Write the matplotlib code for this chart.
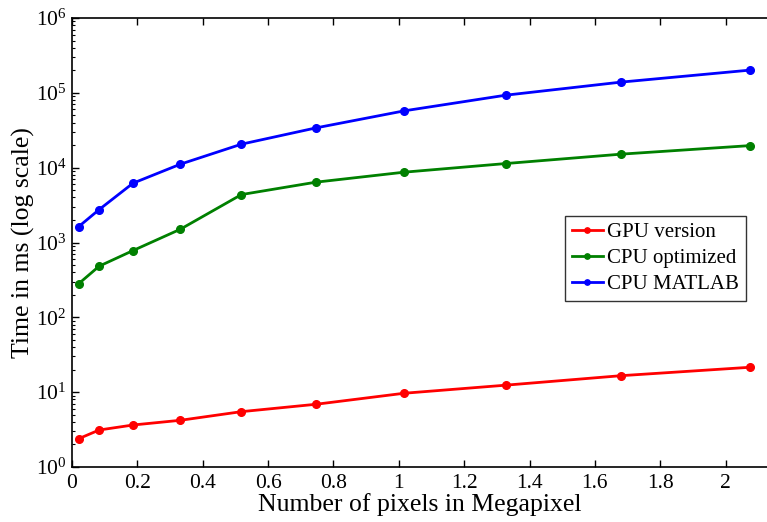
import matplotlib
matplotlib.use("Agg")
import matplotlib.pyplot as plt
from matplotlib.ticker import LogLocator, FixedLocator

megapixels = [0.0207, 0.0829, 0.1866, 0.3318, 0.5184, 0.7465, 1.0161, 1.3271, 1.6796, 2.0736]
gpu_version = [2.39, 3.12, 3.64, 4.21, 5.49, 6.89, 9.67, 12.4, 16.6, 21.5]
cpu_optimized = [282, 482, 780, 1506, 4370, 6400, 8700, 11350, 15150, 19700]
cpu_matlab = [1633, 2750, 6200, 11140, 20600, 34000, 57400, 93000, 139000, 201000]
series_labels = ["GPU version", "CPU optimized", "CPU MATLAB"]
x_ticks = [0, 0.2, 0.4, 0.6, 0.8, 1.0, 1.2, 1.4, 1.6, 1.8, 2.0]
x_tick_labels = ["0", "0.2", "0.4", "0.6", "0.8", "1", "1.2", "1.4", "1.6", "1.8", "2"]

plt.rcParams['font.family'] = ['Liberation Serif', 'DejaVu Serif']
plt.rcParams['mathtext.fontset'] = 'custom'
plt.rcParams['mathtext.rm'] = 'Liberation Serif'
plt.rcParams['mathtext.it'] = 'Liberation Serif:italic'

W, H = 767, 522
fig = plt.figure(figsize=(W / 100, H / 100), dpi=100)
ax = fig.add_axes([72 / W, 1 - 467 / H, (W - 72) / W, (467 - 18) / H])

colors = ['#ff0000', '#008000', '#0000ff']
for ys, c, lab in zip([gpu_version, cpu_optimized, cpu_matlab], colors, series_labels):
    ax.plot(megapixels, ys, '-o', color=c, lw=2, ms=5.5, label=lab)

ax.set_yscale('log')
ax.set_ylim(1, 1e6)
ax.set_xlim(0, (W - 72) / 326.8)
ax.xaxis.set_major_locator(FixedLocator(x_ticks))
ax.set_xticklabels(x_tick_labels)
ax.yaxis.set_major_locator(LogLocator(base=10, numticks=10))
ax.yaxis.set_minor_locator(LogLocator(base=10, subs=range(2, 10), numticks=20))

ax.tick_params(which='both', direction='in', top=True, right=False)
ax.tick_params(axis='x', labelsize=15.5, pad=5)
ax.tick_params(axis='y', labelsize=15.5, pad=4)
ax.tick_params(which='major', length=5, width=1)
ax.tick_params(which='minor', length=2.5, width=0.8)
ax.spines['right'].set_visible(False)
for s in ['left', 'bottom', 'top']:
    ax.spines[s].set_linewidth(1.2)

ax.set_xlabel("Number of pixels in Megapixel", fontsize=18.5, labelpad=0)
ax.set_ylabel("Time in ms (log scale)", fontsize=18.5)
ax.yaxis.set_label_coords((35 - 72) / (W - 72), 0.5)

leg = ax.legend(loc='upper left', bbox_to_anchor=((565 - 72) / (W - 72), 1 - (216 - 18) / 449),
                fontsize=15, frameon=True, fancybox=False, edgecolor='black',
                borderpad=0.32, handlelength=1.5, handletextpad=0.2, labelspacing=0.3,
                borderaxespad=0, markerscale=0.7)
leg.get_frame().set_linewidth(1.0)

fig.savefig("out.png", dpi=100)
